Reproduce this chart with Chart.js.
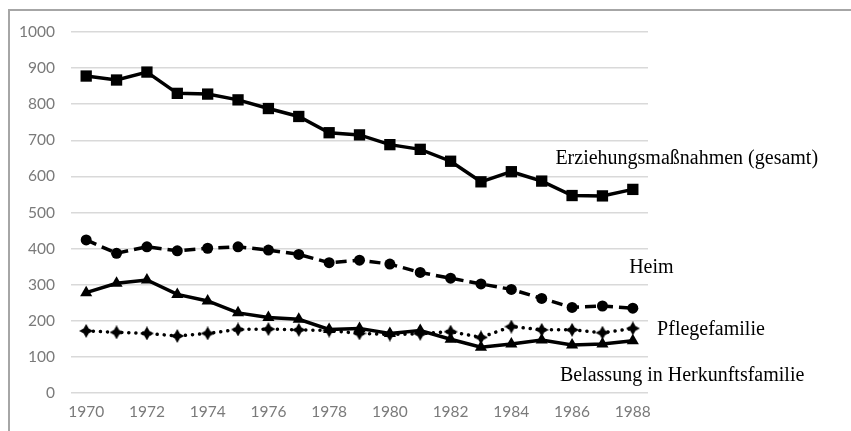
<!DOCTYPE html>
<html>
<head>
<meta charset="utf-8">
<script src="https://cdn.jsdelivr.net/npm/chart.js@4"></script>
<style>
  html, body { margin: 0; padding: 0; background: #fff; }
  #wrap { position: relative; width: 851px; height: 431px; overflow: hidden; }
  #frame { position: absolute; left: 8px; top: 9px; width: 900px; height: 500px;
           border-top: 2px solid #a6a6a6; border-left: 2px solid #a6a6a6; box-sizing: border-box; }
  canvas { position: absolute; left: 0; top: 0; }
</style>
</head>
<body>
<div id="wrap">
  <div id="frame"></div>
  <canvas id="c" width="851" height="431"></canvas>
</div>
<script>
const years = ['1970','1971','1972','1973','1974','1975','1976','1977','1978','1979','1980','1981','1982','1983','1984','1985','1986','1987','1988'];
const gesamt = [878, 867, 889, 830, 828, 812, 788, 766, 721, 715, 688, 675, 642, 585, 613, 587, 547, 546, 564];
const heim = [424, 387, 405, 394, 401, 405, 396, 384, 361, 368, 357, 334, 318, 302, 287, 262, 237, 241, 235];
const pflege = [172, 168, 165, 158, 165, 176, 177, 175, 173, 165, 162, 164, 170, 154, 184, 175, 175, 167, 179];
const belassung = [278, 304, 313, 273, 255, 222, 209, 204, 176, 179, 165, 173, 149, 127, 136, 147, 133, 136, 145];
const seriesLabels = ['Erziehungsmaßnahmen (gesamt)', 'Heim', 'Pflegefamilie', 'Belassung in Herkunftsfamilie'];
const yTicks = [0, 100, 200, 300, 400, 500, 600, 700, 800, 900, 1000];

// star-like marker for Pflegefamilie
const star = document.createElement('canvas');
star.width = 14; star.height = 14;
(function(){
  const g = star.getContext('2d');
  g.fillStyle = '#000';
  g.beginPath();
  g.moveTo(7, 0); g.lineTo(9.5, 4.5); g.lineTo(14, 7); g.lineTo(9.5, 9.5);
  g.lineTo(7, 14); g.lineTo(4.5, 9.5); g.lineTo(0, 7); g.lineTo(4.5, 4.5);
  g.closePath(); g.fill();
})();

const labelPlugin = {
  id: 'seriesLabels',
  afterDatasetsDraw(chart) {
    const ctx = chart.ctx;
    const x = chart.scales.x, y = chart.scales.y;
    ctx.save();
    ctx.fillStyle = '#000';
    ctx.font = '20px "Liberation Serif", "Times New Roman", serif';
    ctx.textBaseline = 'middle';
    ctx.textAlign = 'left';
    const pos = [
      [x.getPixelForValue(15.45), y.getPixelForValue(650)],
      [x.getPixelForValue(17.88), y.getPixelForValue(346)],
      [x.getPixelForValue(18.8), y.getPixelForValue(175)],
      [x.getPixelForValue(15.6), y.getPixelForValue(47)]
    ];
    seriesLabels.forEach((t, i) => ctx.fillText(t, pos[i][0], pos[i][1]));
    ctx.restore();
  }
};

new Chart(document.getElementById('c'), {
  type: 'line',
  data: {
    labels: years,
    datasets: [
      { label: seriesLabels[0], data: gesamt, borderColor: '#000', backgroundColor: '#000',
        borderWidth: 3.5, pointStyle: 'rect', pointRadius: 8, pointBorderWidth: 0 },
      { label: seriesLabels[1], data: heim, borderColor: '#000', backgroundColor: '#000',
        borderWidth: 3.5, borderDash: [11, 6], pointStyle: 'circle', pointRadius: 5.5, pointBorderWidth: 0 },
      { label: seriesLabels[2], data: pflege, borderColor: '#000', backgroundColor: '#000',
        borderWidth: 3.5, borderDash: [0.1, 7], borderCapStyle: 'round', pointStyle: star, pointRadius: 7 },
      { label: seriesLabels[3], data: belassung, borderColor: '#000', backgroundColor: '#000',
        borderWidth: 3.5, pointStyle: 'triangle', pointRadius: 7, pointBorderWidth: 0 }
    ]
  },
  options: {
    responsive: false,
    animation: false,
    devicePixelRatio: 1,
    layout: { padding: { top: 32, right: 203, left: 0, bottom: 0 } },
    plugins: { legend: { display: false }, tooltip: { enabled: false } },
    elements: { line: { tension: 0 } },
    scales: {
      x: {
        offset: true,
        grid: { display: false, drawTicks: false },
        border: { display: false },
        ticks: {
          autoSkip: false, maxRotation: 0, padding: 10,
          color: '#7a7a7a', font: { family: 'Lato, "Open Sans", sans-serif', size: 15.5 },
          callback: function(v, i) { return i % 2 === 0 ? years[i] : ''; }
        },
        afterFit(s) { s.height = 38; }
      },
      y: {
        min: 0, max: 1000,
        afterBuildTicks(s) { s.ticks = yTicks.map(v => ({ value: v })); },
        grid: { color: '#d9d9d9', lineWidth: 1.5, drawTicks: false },
        border: { display: false },
        ticks: { padding: 16, color: '#7a7a7a', font: { family: 'Lato, "Open Sans", sans-serif', size: 15.5 },
          callback: v => String(v) },
        afterFit(s) { s.width = 71; }
      }
    }
  },
  plugins: [labelPlugin]
});
</script>
</body>
</html>
